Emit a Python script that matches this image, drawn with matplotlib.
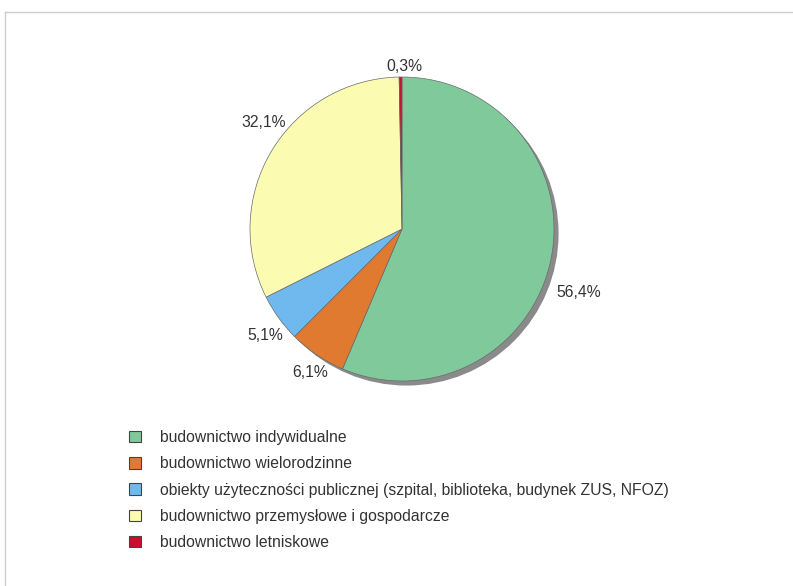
import matplotlib
matplotlib.use("Agg")
import matplotlib.pyplot as plt
from matplotlib.patches import Patch, Circle
from matplotlib.lines import Line2D
import numpy as np

categories = [
    "budownictwo indywidualne",
    "budownictwo wielorodzinne",
    "obiekty użyteczności publicznej (szpital, biblioteka, budynek ZUS, NFOZ)",
    "budownictwo przemysłowe i gospodarcze",
    "budownictwo letniskowe",
]
values = [56.4, 6.1, 5.1, 32.1, 0.3]
colors = ["#80C99B", "#E07A31", "#70B9EE", "#FBFBB2", "#C8102E"]

# label placement offsets (pixels) from each slice's outer mid-point
label_offsets_px = [(28, -33), (-7, -18), (-14, -18), (-8, 28), (4, 11)]

plt.rcParams['font.family'] = ['Liberation Sans', 'DejaVu Sans']

W, H = 793, 586
fig = plt.figure(figsize=(W / 100, H / 100), dpi=100)
fig.patch.set_facecolor("white")

# frame lines
fig.add_artist(Line2D([5 / W, 5 / W], [0, 1 - 12 / H], color="#CCCCCC", lw=1))
fig.add_artist(Line2D([5 / W, 1], [1 - 12 / H, 1 - 12 / H], color="#CCCCCC", lw=1))

cx, cy, R = 402, 229, 152
half = 220
ax = fig.add_axes([(cx - half) / W, 1 - (cy + half) / H, 2 * half / W, 2 * half / H])
lim = half / R

# shadow
ax.add_patch(Circle((0.03, -0.03), 1.0, facecolor="#8A8A8A", edgecolor="none", zorder=0))

wedges, _ = ax.pie(values, colors=colors, startangle=90, counterclock=False,
                   radius=1.0, wedgeprops=dict(edgecolor="#6A6A6A", linewidth=0.5),
                   frame=True)
ax.set_xlim(-lim, lim)
ax.set_ylim(-lim, lim)
ax.set_aspect("equal")
ax.axis("off")

for w, v, off in zip(wedges, values, label_offsets_px):
    ang = np.deg2rad((w.theta1 + w.theta2) / 2)
    x, y = np.cos(ang), np.sin(ang)
    ax.annotate(f"{v:.1f}%".replace(".", ","), xy=(x, y),
                xytext=(off[0] * 0.72, off[1] * 0.72), textcoords="offset points",
                ha="center", va="center", fontsize=11.3, color="#333333")

handles = [Patch(facecolor=c, edgecolor="#444444", linewidth=0.8) for c in colors]
fig.legend(handles, categories, loc="upper left",
           bbox_to_anchor=(129 / W, 1 - 430 / H), frameon=False,
           fontsize=11.3, handlelength=0.75, handleheight=0.75,
           handletextpad=1.2, labelspacing=0.72, borderaxespad=0, borderpad=0,
           labelcolor="#333333")

fig.savefig("out.png", dpi=100, facecolor="white")
